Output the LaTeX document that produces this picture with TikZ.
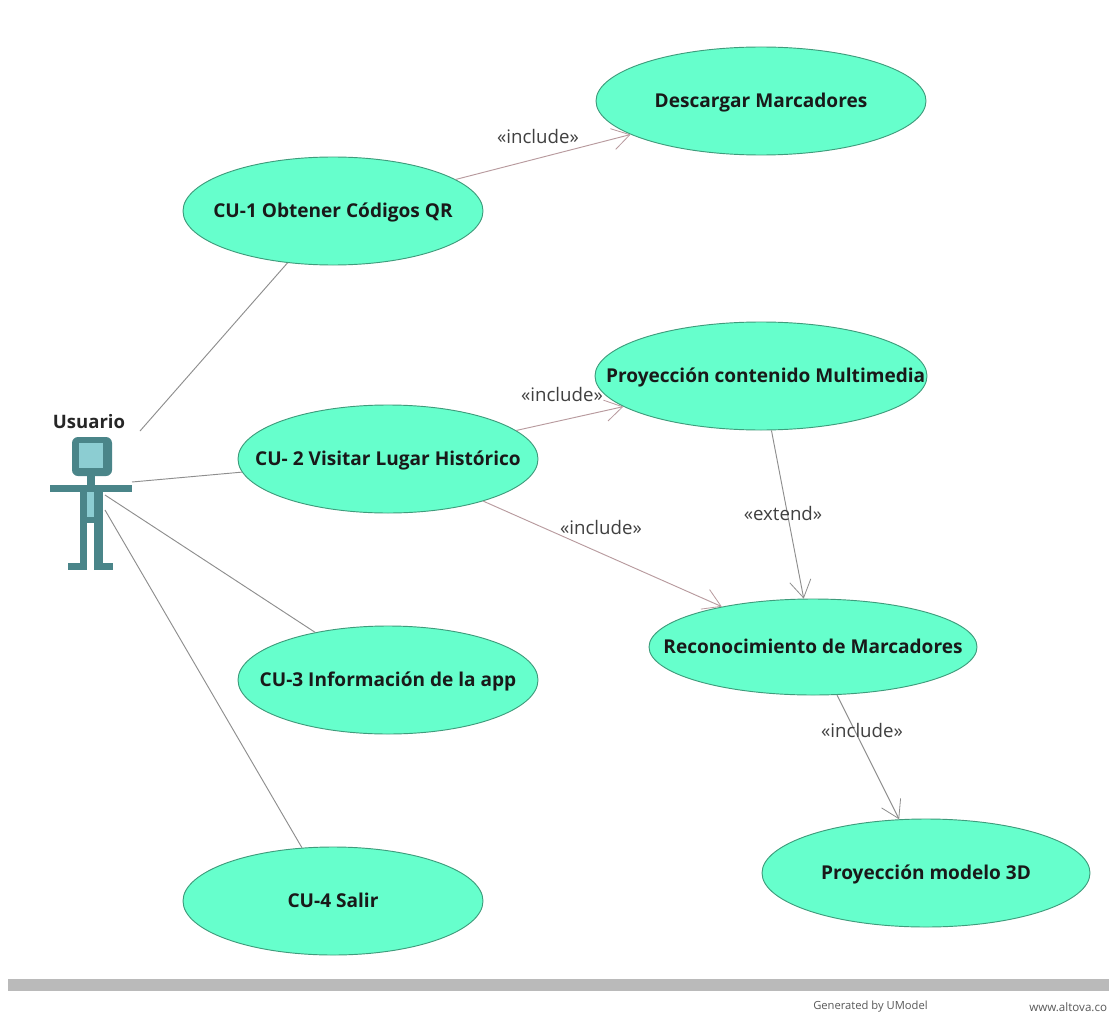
\documentclass[tikz,border=0pt]{standalone}
\usepackage{fontspec}
\setmainfont{Open Sans}
\usetikzlibrary{arrows.meta,shapes.geometric}
\definecolor{ucfill}{HTML}{66FFCC}
\definecolor{ucline}{HTML}{3F9C7C}
\definecolor{actdark}{HTML}{4A8589}
\definecolor{actlight}{HTML}{8CCDD2}
\definecolor{linkgray}{HTML}{8E8E8E}
\definecolor{linkpink}{HTML}{B89A9E}
\newcommand{\uclabel}[1]{\raisebox{-5.2pt}[0pt][0pt]{\makebox[0pt]{#1}}}
\tikzset{
  x=0.75pt,y=-0.75pt,
  usecase/.style={ellipse,draw=ucline,line width=0.7pt,fill=ucfill,inner sep=0pt,
    font=\fontsize{14.3}{16}\selectfont\bfseries,text=black!90},
  assoc/.style={draw=linkgray,line width=0.7pt},
  dep/.style={draw=linkgray,line width=0.7pt,-{Straight Barb[length=13pt,width=16pt,line width=0.6pt]}},
  deppink/.style={dep,draw=linkpink},
  stereo/.style={font=\fontsize{14}{16}\selectfont,text=black!75,inner sep=0pt},
  foot/.style={font=\fontsize{8.4}{10}\selectfont,text=black!65,inner sep=0pt,anchor=west},
  actbody/.style={fill=actdark,draw=none},
  actinner/.style={fill=actlight,draw=none},
}
\begin{document}
\begin{tikzpicture}
\useasboundingbox (0,0) rectangle (1109,1013);
\fill[white] (0,0) rectangle (1109,1013);
% use cases
\node[usecase,minimum width=247.5pt,minimum height=81pt] (desc) at (761,101) {\uclabel{Descargar Marcadores}};
\node[usecase,minimum width=225pt,minimum height=81pt] (cu1) at (333,211) {\uclabel{CU-1 Obtener Códigos QR}};
\node[usecase,minimum width=249pt,minimum height=81pt] (proy) at (761,376) {\uclabel{\hspace{7pt}Proyección contenido Multimedia}};
\node[usecase,minimum width=225pt,minimum height=81pt] (cu2) at (388,459) {\uclabel{CU- 2 Visitar Lugar Histórico}};
\node[usecase,minimum width=246pt,minimum height=72pt] (rec) at (813,647) {\uclabel{Reconocimiento de Marcadores}};
\node[usecase,minimum width=225pt,minimum height=81pt] (cu3) at (388,680) {\uclabel{CU-3 Información de la app}};
\node[usecase,minimum width=225pt,minimum height=81pt] (cu4) at (333,901) {\uclabel{CU-4 Salir}};
\node[usecase,minimum width=246pt,minimum height=81pt] (m3d) at (926,873) {\uclabel{Proyección modelo 3D}};
% actor
\node[inner sep=0pt,font=\fontsize{13.9}{16}\selectfont\bfseries,text=black!85] (usuario) at (89,422) {Usuario};
\fill[actbody,rounded corners=4.5pt] (72,437) rectangle (112,476);
\fill[actinner] (79,443) rectangle (103,468);
\fill[actbody] (87,476) rectangle (95,485);
\fill[actbody] (50,485) rectangle (132,492);
\fill[actbody] (80,492) rectangle (103,523);
\fill[actinner] (87,492) rectangle (94,517);
\fill[actbody] (80,523) rectangle (87,565);
\fill[actbody] (94,523) rectangle (103,565);
\fill[actbody] (68,563) rectangle (87,570);
\fill[actbody] (94,563) rectangle (113,570);
\coordinate (a1) at (140,431);
\coordinate (a2) at (132,482);
\coordinate (a3) at (105,495);
\coordinate (a4) at (105,510);
% associations
\draw[assoc] (a1) -- (cu1);
\draw[assoc] (a2) -- (cu2);
\draw[assoc] (a3) -- (cu3);
\draw[assoc] (a4) -- (cu4);
% dependencies
\draw[deppink] (cu1) -- (desc);
\draw[deppink] (cu2) -- (proy);
\draw[deppink] (cu2) -- (rec);
\draw[dep] (proy) -- (rec);
\draw[dep] (rec) -- (m3d);
% labels
\node[stereo] (l1) at (538,136) {«include»};
\node[stereo] (l2) at (562,394) {«include»};
\node[stereo] (l3) at (601,527) {«include»};
\node[stereo] (l4) at (783,513) {«extend»};
\node[stereo] (l5) at (862,730) {«include»};
% footer
\fill[black!27] (8,979) rectangle (1109,991);
\node[foot] (gen) at (813,1007) {Generated by UModel};
\node[foot,font=\fontsize{8.7}{10}\selectfont] (web) at (1029,1007) {www.altova.co};
\end{tikzpicture}
\end{document}
